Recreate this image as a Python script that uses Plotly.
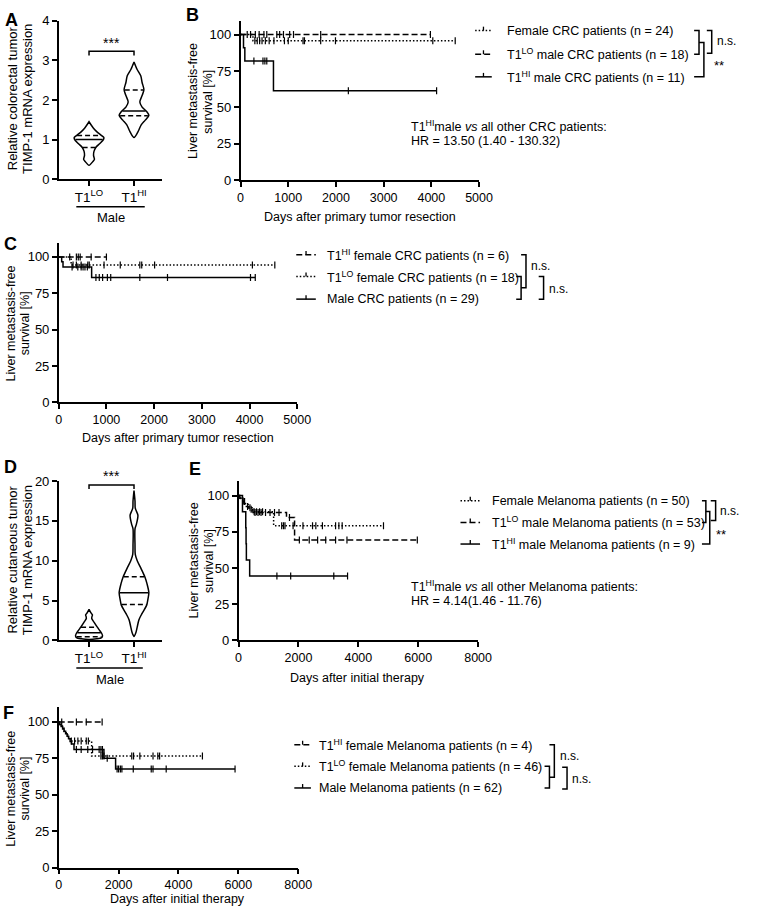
import numpy as np
import plotly.graph_objects as go

W, H = 757, 914
FONT = "Liberation Sans, Arial, sans-serif"
DASH = "6px,3px"
DOT = "1.5px,2px"

# ---- Panel A: CRC male, TIMP-1 expression (violin outline: level, half-width in category units)
a_cats = ["T1<sup>LO</sup>", "T1<sup>HI</sup>"]
a_lo_y = [0.35, 0.45, 0.5, 0.6, 0.7, 0.8, 0.9, 1.0, 1.05, 1.1, 1.2, 1.3, 1.45]
a_lo_w = [0, 0.09, 0.12, 0.10, 0.11, 0.15, 0.24, 0.32, 0.33, 0.28, 0.17, 0.09, 0]
a_lo_q = [0.8, 1.0, 1.1]
a_hi_y = [1.05, 1.2, 1.37, 1.49, 1.61, 1.71, 1.82, 1.95, 2.11, 2.26, 2.44, 2.61, 2.77, 2.96]
a_hi_w = [0, 0.09, 0.16, 0.25, 0.33, 0.28, 0.18, 0.13, 0.18, 0.22, 0.18, 0.15, 0.07, 0]
a_hi_q = [1.6, 1.72, 2.25]

# ---- Panel D: melanoma male, TIMP-1 expression
d_lo_y = [0.12, 0.2, 0.35, 0.6, 0.9, 1.3, 1.7, 2.3, 2.75, 3.0, 3.2, 3.45, 3.9]
d_lo_w = [0, 0.17, 0.28, 0.30, 0.28, 0.23, 0.18, 0.11, 0.06, 0.065, 0.076, 0.043, 0]
d_lo_q = [0.45, 0.95, 1.65]
d_hi_y = [0.5, 1.0, 1.7, 2.6, 3.4, 4.4, 5.2, 6.0, 7.1, 8.0, 9.1, 10.0, 10.8, 12.0,
          14.0, 14.6, 15.7, 16.6, 17.5, 18.8]
d_hi_w = [0, 0.043, 0.072, 0.11, 0.18, 0.28, 0.31, 0.33, 0.29, 0.24, 0.15, 0.072, 0.028,
          0.022, 0.022, 0.054, 0.087, 0.028, 0.022, 0]
d_hi_q = [4.5, 6.0, 8.0]

# ---- Panel B: CRC liver metastasis-free survival
b_fem_t = [0, 260, 4500]
b_fem_s = [100, 95.8, 95.8]
b_fem_c = [300, 350, 400, 450, 520, 600, 700, 920, 1000, 1310, 1340, 1680, 1990, 4030, 4500]
b_lo_t = [0, 3980]
b_lo_s = [100, 100]
b_lo_c = [140, 210, 310, 390, 490, 550, 760, 820, 900, 1030, 1110, 1680, 3980]
b_hi_t = [0, 62, 90, 690, 4110]
b_hi_s = [100, 90.9, 81.8, 61.4, 61.4]
b_hi_c = [280, 470, 510, 550, 2260, 4110]

# ---- Panel C
c_hifem_t = [0, 1000]
c_hifem_s = [100, 100]
c_hifem_c = [230, 370, 410, 450, 680, 1000]
c_lofem_t = [0, 260, 4530]
c_lofem_s = [100, 94.4, 94.4]
c_lofem_c = [300, 370, 470, 610, 640, 950, 1290, 1700, 1740, 2010, 4060, 4530]
c_male_t = [0, 62, 90, 690, 4120]
c_male_s = [100, 96.6, 93.1, 85.9, 85.9]
c_male_c = [280, 400, 470, 510, 550, 600, 780, 850, 920, 1020, 1090, 1700, 2280, 4020, 4120]

# ---- Panel E: melanoma
e_fem_t = [0, 60, 140, 230, 320, 450, 1170, 4840]
e_fem_s = [100, 98.0, 95.9, 93.8, 91.6, 88.9, 79.2, 79.2]
e_fem_c = [200, 380, 520, 600, 700, 800, 1440, 1500, 1550, 1820, 2150, 2470, 2580, 2800,
           3240, 3350, 3460, 4840]
e_lo_t = [0, 40, 100, 180, 260, 350, 480, 1600, 1870, 5970]
e_lo_s = [100, 98.1, 96.2, 94.3, 92.4, 90.5, 88.4, 84.8, 69.4, 69.4]
e_lo_c = [150, 300, 420, 550, 650, 750, 900, 1050, 1200, 1350, 1700, 2030, 2360, 2640,
          2910, 3240, 3620, 5970]
e_hi_t = [0, 130, 240, 250, 260, 370, 3640]
e_hi_s = [100, 88.9, 77.8, 66.7, 55.6, 44.4, 44.4]
e_hi_c = [1280, 1740, 3180, 3640]

# ---- Panel F
f_hifem_t = [0, 1450]
f_hifem_s = [100, 100]
f_hifem_c = [100, 590, 920, 1450]
f_lofem_t = [0, 50, 120, 180, 250, 330, 400, 1100, 4800]
f_lofem_s = [100, 97.8, 95.6, 93.4, 91.2, 89.1, 86.9, 76.6, 76.6]
f_lofem_c = [420, 530, 640, 750, 920, 990, 1410, 1460, 1510, 2440, 2500, 2710, 3150, 3310,
             3370, 4800]
f_male_t = [0, 30, 80, 130, 180, 230, 280, 330, 380, 430, 510, 1510, 1900, 5890]
f_male_s = [100, 98.4, 96.8, 95.1, 93.5, 91.8, 90.1, 88.4, 86.6, 84.8, 81.1, 75.1, 67.6, 67.6]
f_male_c = [590, 750, 970, 1130, 1350, 1410, 1460, 1620, 1950, 2000, 2060, 2110, 2490, 3090,
            3150, 3590, 5890]


def fx(x):
    return x / W


def fy(y):
    return 1 - y / H


shapes = []
annotations = []


def seg(x0, y0, x1, y1, dash="solid", width=1.5):
    shapes.append(dict(type="line", xref="paper", yref="paper",
                       x0=fx(x0), y0=fy(y0), x1=fx(x1), y1=fy(y1),
                       line=dict(color="black", width=width, dash=dash)))


def bracket(x, y0, y1, t0=5, t1=5):
    path = "M %f,%f L %f,%f L %f,%f L %f,%f" % (fx(x - t0), fy(y0), fx(x), fy(y0),
                                               fx(x), fy(y1), fx(x - t1), fy(y1))
    shapes.append(dict(type="path", xref="paper", yref="paper", path=path,
                       line=dict(color="black", width=1.5)))


def text(x, y, s, size=12.5, xanchor="left", angle=0, bold=False):
    if bold:
        s = "<b>" + s + "</b>"
    annotations.append(dict(xref="paper", yref="paper", x=fx(x), y=fy(y), text=s,
                            showarrow=False, xanchor=xanchor, yanchor="middle",
                            textangle=angle,
                            font=dict(family=FONT, size=size, color="black")))


def vtitle(x1, x2, y, line1, line2, size=12.5):
    text(x1, y, line1, size=size, xanchor="center", angle=-90)
    text(x2, y, line2, size=size, xanchor="center", angle=-90)


def legend_row(xs0, xs1, xt, y, dash, label):
    seg(xs0, y, xs1, y, dash=dash)
    mid = (xs0 + xs1) / 2
    seg(mid, y, mid, y - 4, width=1.3)
    text(xt, y, label)


fig = go.Figure()


def km(t, s, cens, dash, ax):
    t = np.array(t, float)
    s = np.array(s, float)
    cens = np.array(cens, float)
    fig.add_trace(go.Scatter(x=t, y=s, mode="lines", xaxis="x" + ax, yaxis="y" + ax,
                             line=dict(shape="hv", color="black", width=1.5, dash=dash),
                             hoverinfo="skip"))
    idx = np.searchsorted(t, cens, side="right") - 1
    fig.add_trace(go.Scatter(x=cens, y=s[idx], mode="markers", xaxis="x" + ax, yaxis="y" + ax,
                             marker=dict(symbol="line-ns", size=5,
                                         line=dict(color="black", width=1.2)),
                             hoverinfo="skip"))


def violin(pos, ys, ws, q, ax):
    ys = np.array(ys, float)
    ws = np.array(ws, float)
    xs = np.concatenate([pos + ws, (pos - ws)[::-1]])
    yy = np.concatenate([ys, ys[::-1]])
    fig.add_trace(go.Scatter(x=xs, y=yy, mode="lines", fill="toself", fillcolor="white",
                             xaxis="x" + ax, yaxis="y" + ax,
                             line=dict(color="black", width=1.5, shape="spline", smoothing=0.8),
                             hoverinfo="skip"))
    for i, v in enumerate(q):
        hw = np.interp(v, ys, ws) * 0.95
        fig.add_trace(go.Scatter(x=[pos - hw, pos + hw], y=[v, v], mode="lines",
                                 xaxis="x" + ax, yaxis="y" + ax,
                                 line=dict(color="black", width=1.5,
                                           dash="solid" if i == 1 else "5px,3px"),
                                 hoverinfo="skip"))


# violins
violin(0, a_lo_y, a_lo_w, a_lo_q, "")
violin(1, a_hi_y, a_hi_w, a_hi_q, "")
violin(0, d_lo_y, d_lo_w, d_lo_q, "4")
violin(1, d_hi_y, d_hi_w, d_hi_q, "4")

# survival curves
km(b_fem_t, b_fem_s, b_fem_c, DOT, "2")
km(b_lo_t, b_lo_s, b_lo_c, DASH, "2")
km(b_hi_t, b_hi_s, b_hi_c, "solid", "2")
km(c_lofem_t, c_lofem_s, c_lofem_c, DOT, "3")
km(c_hifem_t, c_hifem_s, c_hifem_c, DASH, "3")
km(c_male_t, c_male_s, c_male_c, "solid", "3")
km(e_fem_t, e_fem_s, e_fem_c, DOT, "5")
km(e_lo_t, e_lo_s, e_lo_c, DASH, "5")
km(e_hi_t, e_hi_s, e_hi_c, "solid", "5")
km(f_lofem_t, f_lofem_s, f_lofem_c, DOT, "6")
km(f_hifem_t, f_hifem_s, f_hifem_c, DASH, "6")
km(f_male_t, f_male_s, f_male_c, "solid", "6")

# axes: pixel boxes (left, right, bottom, top)
base = dict(showline=True, linecolor="black", linewidth=1.5, ticks="outside", ticklen=5,
            tickwidth=1.5, tickcolor="black", showgrid=False, zeroline=False,
            tickfont=dict(family=FONT, size=12.5, color="black"))
km_y = dict(range=[0, 109.5], tickvals=[0, 25, 50, 75, 100])
axes = {
    "": ((57, 163, 175, 14), dict(range=[-0.674, 1.63], tickvals=[0, 1], ticktext=a_cats),
         dict(range=[0, 4], tickvals=[0, 1, 2, 3, 4])),
    "2": ((243, 487, 176, 14), dict(range=[0, 5000], tickvals=[0, 1000, 2000, 3000, 4000, 5000]), km_y),
    "3": ((57, 301, 402, 240), dict(range=[0, 5000], tickvals=[0, 1000, 2000, 3000, 4000, 5000]), km_y),
    "4": ((57, 163, 644, 482), dict(range=[-0.674, 1.63], tickvals=[0, 1], ticktext=a_cats),
          dict(range=[0, 20], tickvals=[0, 5, 10, 15, 20])),
    "5": ((241, 486, 644, 482), dict(range=[0, 8000], tickvals=[0, 2000, 4000, 6000, 8000]),
          dict(range=[0, 110], tickvals=[0, 25, 50, 75, 100])),
    "6": ((57, 302, 875, 712), dict(range=[0, 8000], tickvals=[0, 2000, 4000, 6000, 8000]),
          dict(range=[0, 110], tickvals=[0, 25, 50, 75, 100])),
}
layout_axes = {}
for k, ((l, r, b, t), xa, ya) in axes.items():
    layout_axes["xaxis" + k] = dict(base, domain=[fx(l), fx(r)], anchor="y" + k, **xa)
    layout_axes["yaxis" + k] = dict(base, domain=[fy(b), fy(t)], anchor="x" + k, **ya)
    layout_axes["yaxis" + k]["tickfont"] = dict(family=FONT, size=13, color="black")
layout_axes["xaxis"]["tickfont"] = dict(family=FONT, size=13.5, color="black")
layout_axes["xaxis4"]["tickfont"] = dict(family=FONT, size=13.5, color="black")

# significance bars on violins
for ax, yb, yt in (("", 3.12, 3.23), ("4", 19.0, 19.5)):
    shapes.append(dict(type="path", xref="x" + ax, yref="y" + ax,
                       path="M 0,%f L 0,%f L 1,%f L 1,%f" % (yb, yt, yt, yb),
                       line=dict(color="black", width=1.5)))
text(111, 37, "***", size=14, xanchor="center")
text(111, 477, "***", size=14, xanchor="center")

# "Male" group labels
seg(75, 203, 145, 203)
text(110, 214, "Male", size=13, xanchor="center")
seg(75, 672, 143, 672)
text(109, 684, "Male", size=13, xanchor="center")

# panel letters
for lx, ly, lab in ((9, 13, "A"), (194, 8, "B"), (8, 241, "C"), (8, 468, "D"),
                    (196, 470, "E"), (6, 718, "F")):
    text(lx, ly, lab, size=18, xanchor="center", bold=True)

# axis titles
vtitle(10, 25, 93, "Relative colorectal tumor", "TIMP-1 mRNA expression", size=13)
vtitle(10, 25, 562, "Relative cutaneous tumor", "TIMP-1 mRNA expression", size=13)
for x1, x2, ty in ((195, 210, 96), (8, 22, 322), (195, 210, 563), (8, 22, 795)):
    vtitle(x1, x2, ty, "Liver metastasis-free", "survival [%]")
text(365, 213, "Days after primary tumor resection", xanchor="center")
text(179, 438, "Days after primary tumor resection", xanchor="center")
text(363, 682, "Days after initial therapy", xanchor="center")
text(179, 907, "Days after initial therapy", xanchor="center")

# legends B
legend_row(483, 500, 514, 24, DOT, "Female CRC patients (n = 24)")
legend_row(483, 500, 514, 48, DASH, "T1<sup>LO</sup> male CRC patients (n = 18)")
legend_row(483, 500, 514, 71, "solid", "T1<sup>HI</sup> male CRC patients (n = 11)")
bracket(712, 24, 48)
bracket(717, 36, 71, t0=5, t1=10)
bracket(725, 24, 47)
text(728, 35, "n.s.", size=12)
text(725, 59, "**", size=13)
text(415, 121, "T1<sup>HI</sup>male <i>vs</i> all other CRC patients:")
text(415, 136, "HR = 13.50 (1.40 - 130.32)")

# legends C
legend_row(300, 320, 329, 252, DASH, "T1<sup>HI</sup> female CRC patients (n = 6)")
legend_row(300, 320, 329, 274, DOT, "T1<sup>LO</sup> female CRC patients (n = 18)")
legend_row(300, 320, 329, 297, "solid", "Male CRC patients (n = 29)")
bracket(530, 274, 297)
bracket(535, 252, 285.5)
text(538, 263, "n.s.", size=12)
bracket(553, 274, 297)
text(557, 287, "n.s.", size=12)

# legends E
legend_row(468, 488, 498, 502, DOT, "Female Melanoma patients (n = 50)")
legend_row(468, 488, 498, 524, DASH, "T1<sup>LO</sup> male Melanoma patients (n = 53)")
legend_row(468, 488, 498, 546, "solid", "T1<sup>HI</sup> male Melanoma patients (n = 9)")
bracket(719, 502, 524, t0=4, t1=4)
bracket(723, 513, 546, t0=4, t1=8)
bracket(729, 502, 522, t0=5, t1=5)
text(731, 512, "n.s.", size=12)
text(727, 536, "**", size=13)
text(415, 589, "T1<sup>HI</sup>male <i>vs</i> all other Melanoma patients:")
text(415, 604, "HR = 4.14(1.46 - 11.76)")

# legends F
legend_row(298, 315, 321, 750, DASH, "T1<sup>HI</sup> female Melanoma patients (n = 4)")
legend_row(298, 315, 321, 772, DOT, "T1<sup>LO</sup> female Melanoma patients (n = 46)")
legend_row(298, 315, 321, 794, "solid", "Male Melanoma patients (n = 62)")
bracket(559, 772, 794)
bracket(564, 750, 783)
text(568, 762, "n.s.", size=12)
bracket(577, 773, 795)
text(580, 785, "n.s.", size=12)

fig.update_layout(width=W, height=H, margin=dict(l=0, r=0, t=0, b=0), autosize=False,
                  plot_bgcolor="white", paper_bgcolor="white", showlegend=False,
                  font=dict(family=FONT, color="black"),
                  shapes=shapes, annotations=annotations, **layout_axes)
# page body has a default 8px margin; remove it so the figure fills the window
fig.write_html("out.html", config={"displayModeBar": False},
               post_script="document.body.style.margin='0';")
